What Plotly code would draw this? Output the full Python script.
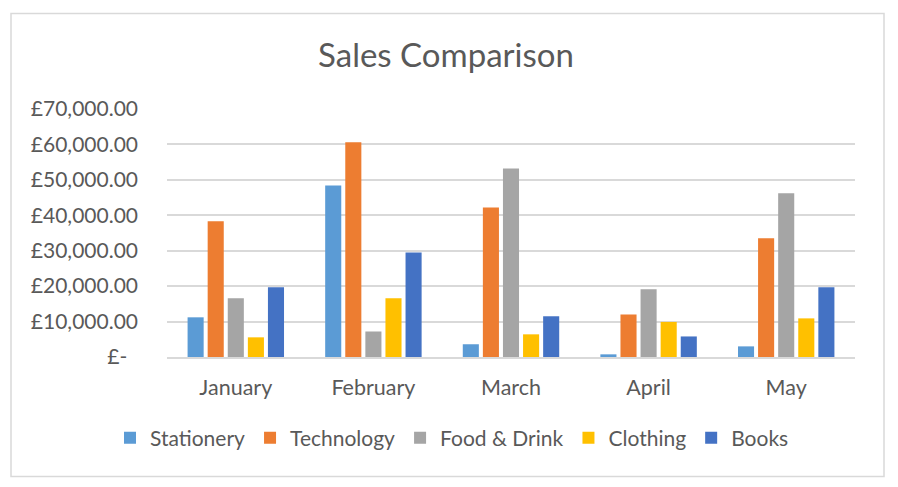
import plotly.graph_objects as go

months = ["January", "February", "March", "April", "May"]
stationery = [11200, 48400, 3600, 750, 3000]
technology = [38300, 60600, 42200, 12000, 33500]
food_drink = [16600, 7200, 53200, 19100, 46200]
clothing = [5550, 16600, 6400, 9900, 10900]
books = [19700, 29500, 11500, 5800, 19700]

series_names = ["Stationery", "Technology", "Food & Drink", "Clothing", "Books"]
series_values = [stationery, technology, food_drink, clothing, books]
colors = ["#5B9BD5", "#ED7D31", "#A5A5A5", "#FFC000", "#4472C4"]

tick_vals = [0, 10000, 20000, 30000, 40000, 50000, 60000, 70000]
tick_text = ["£-\u00a0\u00a0"] + [f"£{v:,.2f}" for v in tick_vals[1:]]

FONT = "Lato, 'Open Sans', sans-serif"
TXT = "#595959"

fig = go.Figure()
for name, vals, c in zip(series_names, series_values, colors):
    fig.add_trace(go.Bar(x=months, y=vals, name=name, marker=dict(color=c, line=dict(width=0))))

W, H = 898, 487
L, R, T, B = 167, 43, 109, 130
pw, ph = W - L - R, H - T - B

def px2x(px):
    return (px - L) / pw

def px2y(py):
    return (H - B - py) / ph

fig.update_layout(
    width=W, height=H,
    margin=dict(l=L, r=R, t=T, b=B),
    paper_bgcolor="white", plot_bgcolor="white",
    barmode="group", bargap=0.27, bargroupgap=0.2,
    font=dict(family=FONT, color=TXT, size=20),
    title=dict(text="Sales Comparison", x=446 / W, xanchor="center", xref="container",
               y=1 - 55 / H, yanchor="middle", yref="container",
               font=dict(size=33, color=TXT, family=FONT)),
    showlegend=True,
    legend=dict(orientation="h", x=px2x(452), xanchor="center", y=px2y(438), yanchor="middle",
                font=dict(size=21, color=TXT), itemwidth=30, traceorder="normal"),
    shapes=[dict(type="rect", xref="paper", yref="paper",
                 x0=px2x(11), x1=px2x(884), y0=px2y(476.5), y1=px2y(13.5),
                 line=dict(color="#D9D9D9", width=1.5), layer="below")],
)
fig.update_yaxes(range=[0, 70000], tickvals=tick_vals, ticktext=tick_text,
                 showgrid=True, gridcolor="#D9D9D9", gridwidth=1.5,
                 zeroline=False, showline=False, ticks="", ticklabelstandoff=28,
                 tickfont=dict(size=21, color=TXT))
fig.update_xaxes(showline=True, linecolor="#D9D9D9", linewidth=1.5, ticks="",
                 ticklabelstandoff=10, tickfont=dict(size=21.5, color=TXT))

fig.write_html("out.html")
